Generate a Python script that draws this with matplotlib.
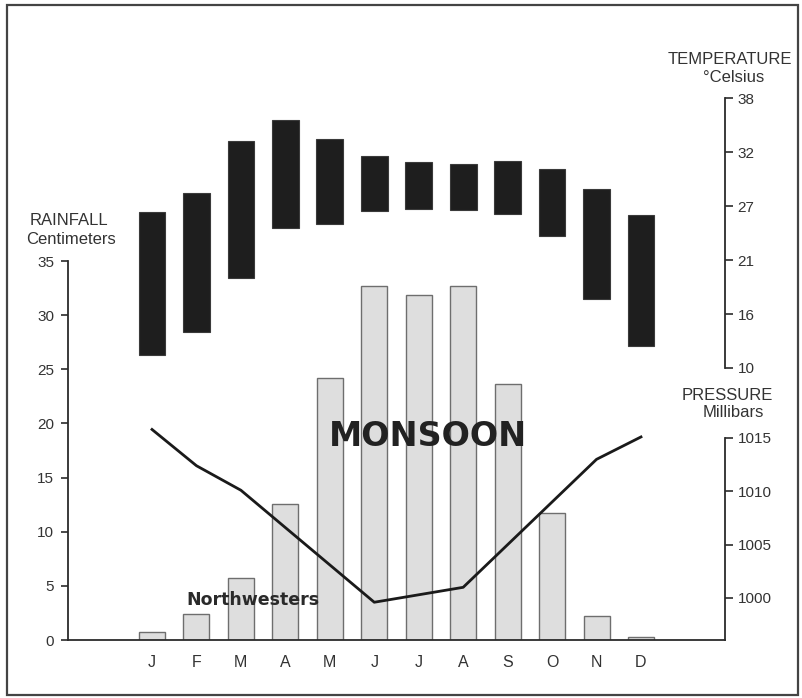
import matplotlib
matplotlib.use("Agg")
import matplotlib.pyplot as plt
from matplotlib.patches import Rectangle
import numpy as np

plt.rcParams['font.family'] = ['Liberation Sans', 'DejaVu Sans']

months = ["J", "F", "M", "A", "M", "J", "J", "A", "S", "O", "N", "D"]
rainfall_cm = [0.7, 2.4, 5.7, 12.6, 24.2, 32.7, 31.9, 32.7, 23.6, 11.7, 2.2, 0.3]
temp_high_c = [26.0, 28.0, 33.4, 35.5, 33.6, 31.8, 31.2, 31.0, 31.3, 30.5, 28.4, 25.7]
temp_low_c = [11.3, 13.7, 19.3, 24.4, 24.8, 26.2, 26.4, 26.3, 25.8, 23.6, 17.1, 12.3]
pressure_mb = [1015.8, 1012.4, 1010.1, 1006.6, 1003.1, 999.6, 1000.3, 1001.0, 1005.0, 1009.0, 1013.0, 1015.1]

rain_ticks = [0, 5, 10, 15, 20, 25, 30, 35]
temp_ticks_f = [50, 60, 70, 80, 90, 100]
temp_tick_labels = ["10", "16", "21", "27", "32", "38"]
pres_ticks = [1000, 1005, 1010, 1015]

W, H = 802, 698
fig = plt.figure(figsize=(W / 100, H / 100), dpi=100)
fig.patch.set_facecolor("white")

def fx(x):
    return x / W

def fy(y):
    return 1 - y / H

left_px, right_px = 68, 725
x = np.arange(len(months))
xlim = (-1.89, 12.89)
ink = "#2b2b2b"

# Rainfall axes
ax = fig.add_axes([fx(left_px), fy(640), fx(right_px) - fx(left_px), fy(261) - fy(640)])
ax.bar(x, rainfall_cm, width=0.585, color="#dedede", edgecolor="#6e6e6e", linewidth=1.0, zorder=2)
ax.set_xlim(*xlim)
ax.set_ylim(0, 35)
ax.set_yticks(rain_ticks)
ax.set_xticks(x)
ax.set_xticklabels(months)
for s in ["top", "right"]:
    ax.spines[s].set_visible(False)
for s in ["left", "bottom"]:
    ax.spines[s].set_color(ink)
    ax.spines[s].set_linewidth(1.3)
ax.tick_params(axis="y", direction="out", length=5, width=1.2, color=ink, labelsize=11, labelcolor="#333333", pad=5)
ax.tick_params(axis="x", length=0, labelsize=11.5, labelcolor="#333333", pad=11)
ax.patch.set_alpha(0)

# Temperature axes
axt = fig.add_axes([fx(left_px), fy(368), fx(right_px) - fx(left_px), fy(98) - fy(368)])
temp_low_f = [c * 9 / 5 + 32 for c in temp_low_c]
temp_high_f = [c * 9 / 5 + 32 for c in temp_high_c]
axt.bar(x, np.array(temp_high_f) - np.array(temp_low_f), bottom=temp_low_f, width=0.6,
        color="#1e1e1e", edgecolor="#3a3a3a", linewidth=0.8, zorder=2)
axt.set_xlim(*xlim)
axt.set_ylim(50, 100)
axt.set_yticks(temp_ticks_f)
axt.set_yticklabels(temp_tick_labels)
axt.yaxis.tick_right()
axt.set_xticks([])
for s in ["top", "left", "bottom"]:
    axt.spines[s].set_visible(False)
axt.spines["right"].set_color(ink)
axt.spines["right"].set_linewidth(1.3)
axt.tick_params(axis="y", direction="out", length=6, width=1.2, color=ink, labelsize=11, labelcolor="#333333", pad=3)
axt.patch.set_alpha(0)

# Pressure axes
axp = fig.add_axes([fx(left_px), fy(640), fx(right_px) - fx(left_px), fy(438) - fy(640)])
axp.plot(x, pressure_mb, color="#1a1a1a", linewidth=2.0, clip_on=False, zorder=3)
axp.set_xlim(*xlim)
axp.set_ylim(996.06, 1015)
axp.set_yticks(pres_ticks)
axp.yaxis.tick_right()
axp.set_xticks([])
for s in ["top", "left", "bottom"]:
    axp.spines[s].set_visible(False)
axp.spines["right"].set_color(ink)
axp.spines["right"].set_linewidth(1.3)
axp.tick_params(axis="y", direction="out", length=6, width=1.2, color=ink, labelsize=11, labelcolor="#333333", pad=3)
axp.patch.set_alpha(0)

# Axis titles
tc = "#333333"
fig.text(fx(69), fy(221), "RAINFALL", ha="center", va="center", fontsize=12, color=tc)
fig.text(fx(71), fy(240), "Centimeters", ha="center", va="center", fontsize=12, color=tc)
fig.text(fx(730), fy(60), "TEMPERATURE", ha="center", va="center", fontsize=12, color=tc)
fig.text(fx(734), fy(77), "°Celsius", ha="center", va="center", fontsize=12, color=tc)
fig.text(fx(727), fy(395), "PRESSURE", ha="center", va="center", fontsize=12, color=tc)
fig.text(fx(733), fy(412), "Millibars", ha="center", va="center", fontsize=12, color=tc)

# Annotations
fig.text(fx(428), fy(437), "MONSOON", ha="center", va="center", fontsize=24,
         fontweight="bold", family="DejaVu Sans", color="#222222", zorder=5)
fig.text(fx(253), fy(600), "Northwesters", ha="center", va="center", fontsize=12.5,
         fontweight="bold", family="DejaVu Sans", color="#2a2a2a", zorder=5)

# Outer frame
fig.patches.append(Rectangle((fx(7), fy(695)), fx(798) - fx(7), fy(5) - fy(695),
                             transform=fig.transFigure, fill=False, edgecolor="#444444",
                             linewidth=1.6))

fig.savefig("out.png", dpi=100, facecolor="white")
